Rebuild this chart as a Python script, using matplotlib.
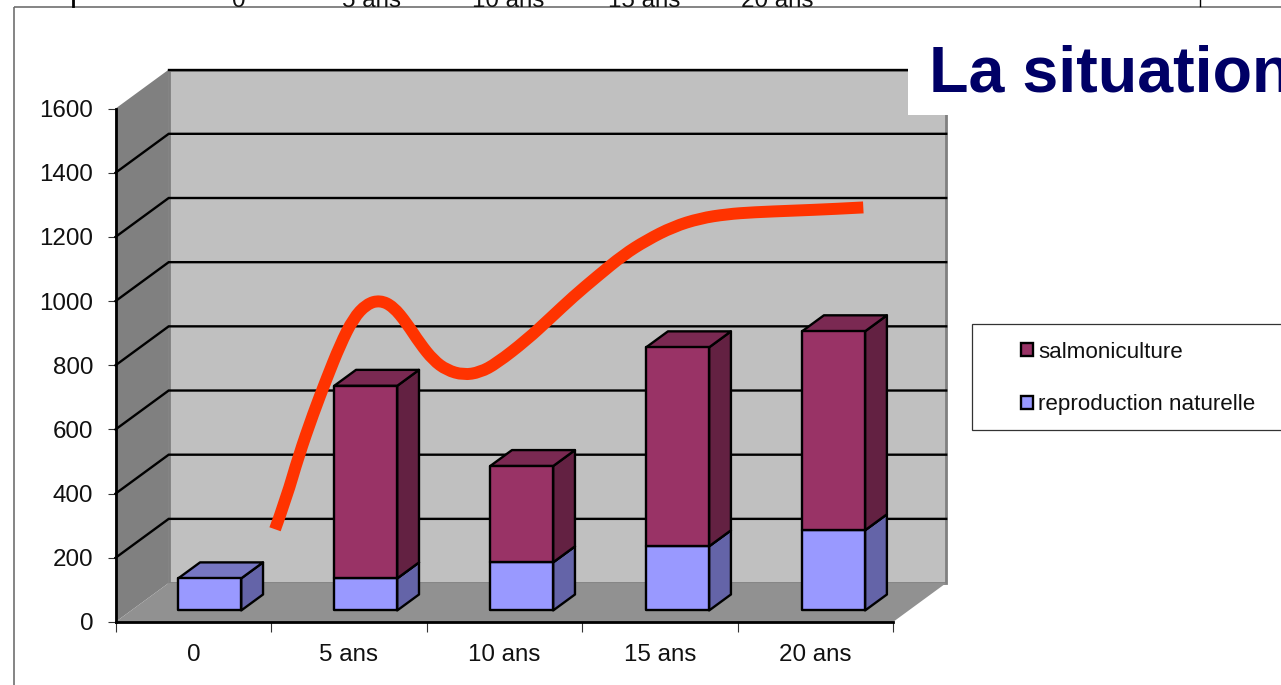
import matplotlib
matplotlib.use('agg')
import matplotlib.pyplot as plt
from matplotlib.patches import Polygon, Rectangle, Patch, PathPatch
from matplotlib.path import Path

plt.rcParams['font.family'] = ['Liberation Sans', 'DejaVu Sans']

categories = ['0', '5 ans', '10 ans', '15 ans', '20 ans']
reproduction = [100, 100, 150, 200, 250]
salmoniculture = [0, 600, 300, 620, 620]
line_x = [1.026, 1.101, 1.176, 1.272, 1.358, 1.444, 1.529, 1.615, 1.701, 1.786, 1.873, 1.958,
          2.044, 2.130, 2.237, 2.344, 2.451, 2.644, 2.794, 2.944, 3.095, 3.266, 3.416, 3.587,
          3.759, 3.931, 4.102, 4.359, 4.616, 4.809]
line_y = [289, 390, 515, 650, 759, 863, 946, 991, 1003, 983, 931, 868,
          816, 785, 770, 778, 806, 879, 946, 1014, 1076, 1144, 1190, 1232,
          1258, 1271, 1277, 1282, 1287, 1292]
yticks = list(range(0, 1601, 200))

W, H = 1281, 685
DEPTH_X = 0.342      # wall depth, in categories
DEPTH_Y = 121.4      # wall depth, in value units
BAR_W = 0.405
BAR_PITCH = 1.003
BAR_NEAR = 0.31      # bars start a little behind the front plane
BAR_DEEP = 0.41
BAR_BASE = 36

fig = plt.figure(figsize=(W / 100, H / 100), dpi=100)
ax = fig.add_axes([115.5 / W, 1 - 622 / H, (893 - 115.5) / W, (622 - 108.6) / H])
ax.set_xlim(0, 5)
ax.set_ylim(0, 1600)
ax.patch.set_visible(False)

x_end = len(categories)
y_end = yticks[-1]

# 3d walls
ax.add_patch(Polygon([(DEPTH_X, DEPTH_Y), (x_end + DEPTH_X, DEPTH_Y),
                      (x_end + DEPTH_X, y_end + DEPTH_Y), (DEPTH_X, y_end + DEPTH_Y)],
                     fc='#c0c0c0', ec='#808080', lw=2, clip_on=False, zorder=1))
ax.add_patch(Polygon([(0, 0), (DEPTH_X, DEPTH_Y), (DEPTH_X, y_end + DEPTH_Y), (0, y_end)],
                     fc='#808080', ec='none', clip_on=False, zorder=1))
ax.add_patch(Polygon([(0, 0), (x_end, 0), (x_end + DEPTH_X, DEPTH_Y), (DEPTH_X, DEPTH_Y)],
                     fc='#919191', ec='none', clip_on=False, zorder=1))

for v in yticks[1:-1]:
    ax.plot([0, DEPTH_X, x_end + DEPTH_X], [v, v + DEPTH_Y, v + DEPTH_Y],
            color='k', lw=1.7, clip_on=False, zorder=2, solid_joinstyle='miter')
ax.plot([DEPTH_X, x_end + DEPTH_X], [y_end + DEPTH_Y] * 2, color='k', lw=1.7,
        clip_on=False, zorder=2)


def draw_block(i, low, high, front, side, top):
    x0 = i * BAR_PITCH + 0.5 + BAR_NEAR * DEPTH_X - BAR_W / 2
    x1 = x0 + BAR_W
    dx, dy = BAR_DEEP * DEPTH_X, BAR_DEEP * DEPTH_Y
    y0, y1 = BAR_BASE + low, BAR_BASE + high
    style = dict(ec='k', lw=1.7, joinstyle='round', clip_on=False, zorder=3)
    ax.add_patch(Polygon([(x1, y0), (x1 + dx, y0 + dy), (x1 + dx, y1 + dy), (x1, y1)], fc=side, **style))
    ax.add_patch(Polygon([(x0, y1), (x1, y1), (x1 + dx, y1 + dy), (x0 + dx, y1 + dy)], fc=top, **style))
    ax.bar(x0, high - low, width=BAR_W, bottom=y0, align='edge', color=front, **style)


for i in range(len(categories)):
    r, s = reproduction[i], salmoniculture[i]
    draw_block(i, 0, r, '#9999ff', '#6464a8', '#7676c2')
    if s > 0:
        draw_block(i, r, r + s, '#993366', '#632142', '#7a2952')

# red curve: quadratic segments through the midpoints of the read points
pts = list(zip(line_x, line_y))
verts = [pts[0]]
codes = [Path.MOVETO]
for a, b in zip(pts[1:-2], pts[2:-1]):
    verts += [a, ((a[0] + b[0]) / 2, (a[1] + b[1]) / 2)]
    codes += [Path.CURVE3, Path.CURVE3]
verts += [pts[-2], pts[-1]]
codes += [Path.CURVE3, Path.CURVE3]
ax.add_patch(PathPatch(Path(verts, codes), fc='none', ec='#ff3300', lw=8.6, capstyle='butt',
                       joinstyle='round', clip_on=False, zorder=4))

# axes and ticks
for name in ['top', 'right']:
    ax.spines[name].set_visible(False)
for name in ['left', 'bottom']:
    ax.spines[name].set_linewidth(2)
    ax.spines[name].set_zorder(5)
ax.set_yticks(yticks)
ax.set_xticks(range(x_end + 1))
ax.set_xticklabels([])
ax.set_xticks([i + 0.5 for i in range(x_end)], minor=True)
ax.set_xticklabels(categories, minor=True, fontsize=17.4, color='#111111')
ax.tick_params(axis='x', which='minor', length=0, pad=15.5)
ax.tick_params(axis='x', which='major', length=7, width=0.8, color='#333333')
ax.tick_params(axis='y', length=6, width=0.8, color='#333333', labelsize=17.4, pad=10,
               labelcolor='#111111')

# page layer: slide border, title, legend
page = fig.add_axes([0, 0, 1, 1], zorder=5)
page.set_xlim(0, W)
page.set_ylim(H, 0)
page.axis('off')

for label, px in zip(categories, [239, 372, 508, 644, 777]):
    page.text(px, 7, label, fontsize=17.4, ha='center', va='baseline', color='#111111')
page.add_patch(Rectangle((13.5, 6.5), W, H, fc='none', ec='#707070', lw=1.2, clip_on=True))
page.plot([73, 73], [0, 6], color='k', lw=2)
page.plot([1200, 1200], [0, 6], color='k', lw=1)

page.add_patch(Rectangle((908, 8), 45, 107, fc='white', ec='none'))
page.text(929, 91, 'La situation', fontsize=46.5, fontweight='bold', color='#000066',
          family='Liberation Sans', ha='left', va='baseline', clip_on=True)

page.add_patch(Rectangle((971.5, 324), 320, 105.5, fc='white', ec='#333333', lw=0.9))
handles = [Patch(fc='#993366', ec='k', lw=1.7), Patch(fc='#9999ff', ec='k', lw=1.7)]
page.legend(handles, ['salmoniculture', 'reproduction naturelle'], frameon=False,
            loc='upper left', bbox_to_anchor=(1021, 341.5), bbox_transform=page.transData,
            fontsize=16.1, borderpad=0, borderaxespad=0, handlelength=0.52, handleheight=0.52,
            handletextpad=0.26, labelspacing=1.42, labelcolor='#111111')

fig.savefig('out.png', dpi=100)
